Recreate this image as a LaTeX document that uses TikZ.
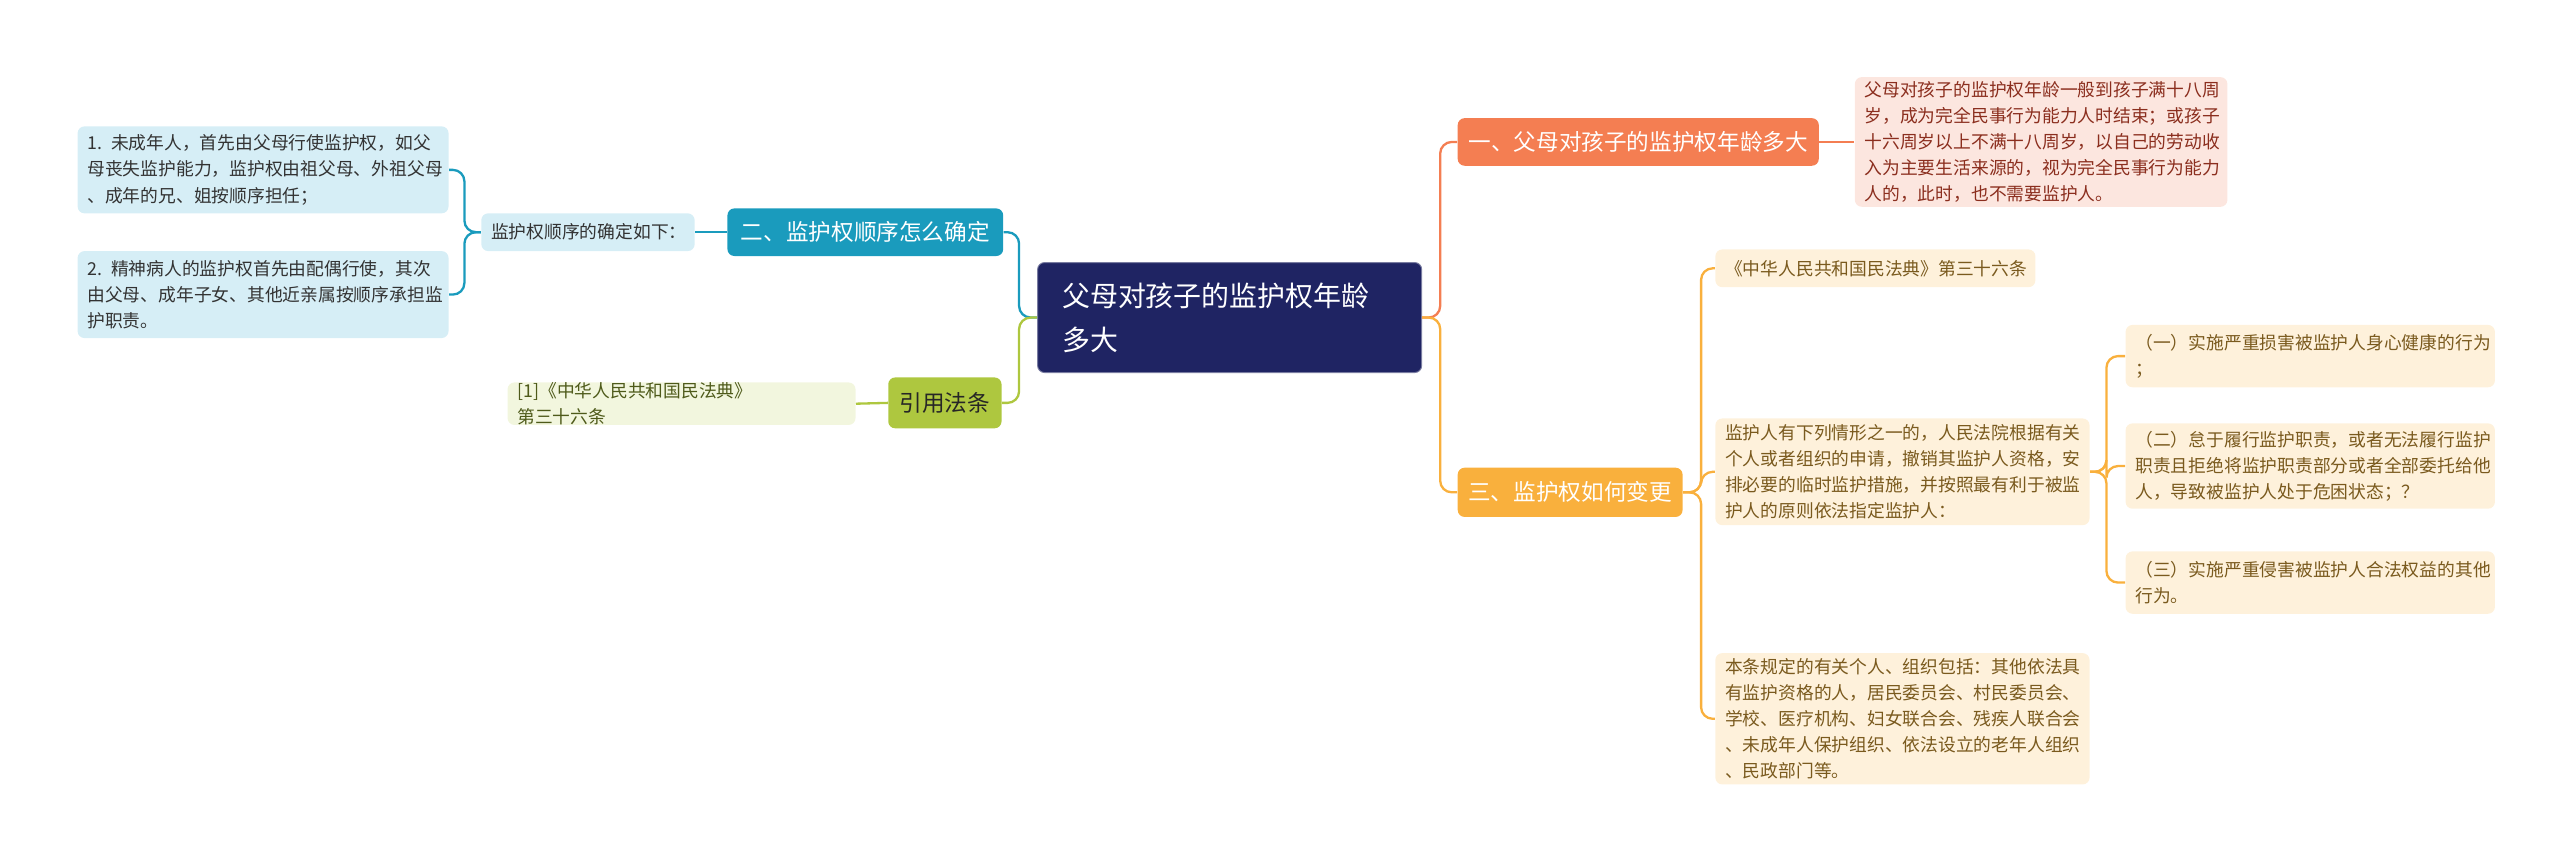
\documentclass[tikz,border=0pt]{standalone}
\usepackage{fontspec}
\setmainfont{Noto Sans CJK SC}
\usetikzlibrary{positioning}
\definecolor{navy}{HTML}{1F2463}
\definecolor{teal}{HTML}{1A9BBD}
\definecolor{skyfill}{HTML}{D6EEF6}
\definecolor{coral}{HTML}{F47E52}
\definecolor{pinkfill}{HTML}{FCE6DF}
\definecolor{pinktext}{HTML}{8B2E1E}
\definecolor{amber}{HTML}{F9B03D}
\definecolor{creamfill}{HTML}{FEF1DB}
\definecolor{creamtext}{HTML}{7A5A1E}
\definecolor{lime}{HTML}{AEC73F}
\definecolor{limefill}{HTML}{F2F6DE}
\definecolor{limetext}{HTML}{4E5A1A}
\begin{document}
\begin{tikzpicture}[
    x=0.025cm, y=-0.025cm,
    leaf/.style={rounded corners=3pt, inner xsep=0.15cm, inner ysep=0pt, anchor=west, align=left, font=\fontsize{7.7}{11.3}\selectfont},
    main/.style={rounded corners=3pt, inner sep=0pt, anchor=west, align=center, text=white, font=\fontsize{9.8}{12}\selectfont},
    link/.style={line width=1pt, rounded corners=5pt}
]
\useasboundingbox (0,0) rectangle (1560,522);

% Nodes
\node (root) [rounded corners=3pt, draw=navy!60, fill=navy, text=white, anchor=west, minimum width=5.85cm, minimum height=1.675cm, text width=5.1cm, align=left, font=\fontsize{12.1}{19}\selectfont] at (632,193.5) {父母对孩子的监护权年龄\\多大};
\node (age) [main, fill=coral, minimum width=5.5cm, minimum height=0.725cm] at (888,86.5) {一、父母对孩子的监护权年龄多大};
\node (ageinfo) [leaf, fill=pinkfill, text=pinktext, minimum height=1.975cm, text width=5.375cm] at (1130,86.5) {父母对孩子的监护权年龄一般到孩子满十八周\\岁，成为完全民事行为能力人时结束；或孩子\\十六周岁以上不满十八周岁，以自己的劳动收\\入为主要生活来源的，视为完全民事行为能力\\人的，此时，也不需要监护人。};
\node (change) [main, fill=amber, minimum width=3.425cm, minimum height=0.75cm] at (888,300) {三、监护权如何变更};
\node (law) [leaf, fill=creamfill, text=creamtext, minimum height=0.575cm, text width=4.575cm] at (1045,163.5) {《中华人民共和国民法典》第三十六条};
\node (revoke) [leaf, fill=creamfill, text=creamtext, minimum height=1.625cm, text width=5.4cm] at (1045,287.5) {监护人有下列情形之一的，人民法院根据有关\\个人或者组织的申请，撤销其监护人资格，安\\排必要的临时监护措施，并按照最有利于被监\\护人的原则依法指定监护人：};
\node (scope) [leaf, fill=creamfill, text=creamtext, minimum height=2cm, text width=5.4cm] at (1045,438) {本条规定的有关个人、组织包括：其他依法具\\有监护资格的人，居民委员会、村民委员会、\\学校、医疗机构、妇女联合会、残疾人联合会\\、未成年人保护组织、依法设立的老年人组织\\、民政部门等。};
\node (case1) [leaf, fill=creamfill, text=creamtext, minimum height=0.95cm, text width=5.325cm] at (1295,217) {（一）实施严重损害被监护人身心健康的行为\\；};
\node (case2) [leaf, fill=creamfill, text=creamtext, minimum height=1.3cm, text width=5.325cm] at (1295,284) {（二）怠于履行监护职责，或者无法履行监护\\职责且拒绝将监护职责部分或者全部委托给他\\人，导致被监护人处于危困状态；？};
\node (case3) [leaf, fill=creamfill, text=creamtext, minimum height=0.95cm, text width=5.325cm] at (1295,355) {（三）实施严重侵害被监护人合法权益的其他\\行为。};
\node (order) [main, fill=teal, minimum width=4.2cm, minimum height=0.725cm] at (443,141.5) {二、监护权顺序怎么确定};
\node (orderhead) [leaf, fill=skyfill, text=black!80, minimum height=0.575cm, text width=2.95cm] at (293,141.5) {监护权顺序的确定如下：};
\node (first) [leaf, fill=skyfill, text=black!80, minimum height=1.325cm, text width=5.35cm] at (47,103.5) {1. 未成年人，首先由父母行使监护权，如父\\母丧失监护能力，监护权由祖父母、外祖父母\\、成年的兄、姐按顺序担任；};
\node (second) [leaf, fill=skyfill, text=black!80, minimum height=1.325cm, text width=5.35cm] at (47,179.5) {2. 精神病人的监护权首先由配偶行使，其次\\由父母、成年子女、其他近亲属按顺序承担监\\护职责。};
\node (cite) [main, fill=lime, text=black!85, minimum width=1.725cm, minimum height=0.775cm] at (541,245.5) {引用法条};
\node (citeinfo) [leaf, fill=limefill, text=limetext, minimum height=0.55cm, text width=5cm] at (309,246) {[1]《中华人民共和国民法典》 第三十六条};

% Links
\draw [link, coral] (root.east) -- ++(11,0) |- (age.west);
\draw [link, amber] (root.east) -- ++(11,0) |- (change.west);
\draw [link, coral] (age.east) -- (ageinfo.west);
\foreach \n in {law,revoke,scope}
  \draw [link, amber] (change.east) -- ++(11,0) |- (\n.west);
\foreach \n in {case1,case2,case3}
  \draw [link, amber] (revoke.east) -- ++(10,0) |- (\n.west);
\draw [link, teal] (root.west) -- ++(-11,0) |- (order.east);
\draw [link, lime] (root.west) -- ++(-11,0) |- (cite.east);
\draw [link, teal] (order.west) -- (orderhead.east);
\foreach \n in {first,second}
  \draw [link, teal] (orderhead.west) -- ++(-10,0) |- (\n.east);
\draw [link, lime] (cite.west) -- (citeinfo.east);
\end{tikzpicture}
\end{document}
